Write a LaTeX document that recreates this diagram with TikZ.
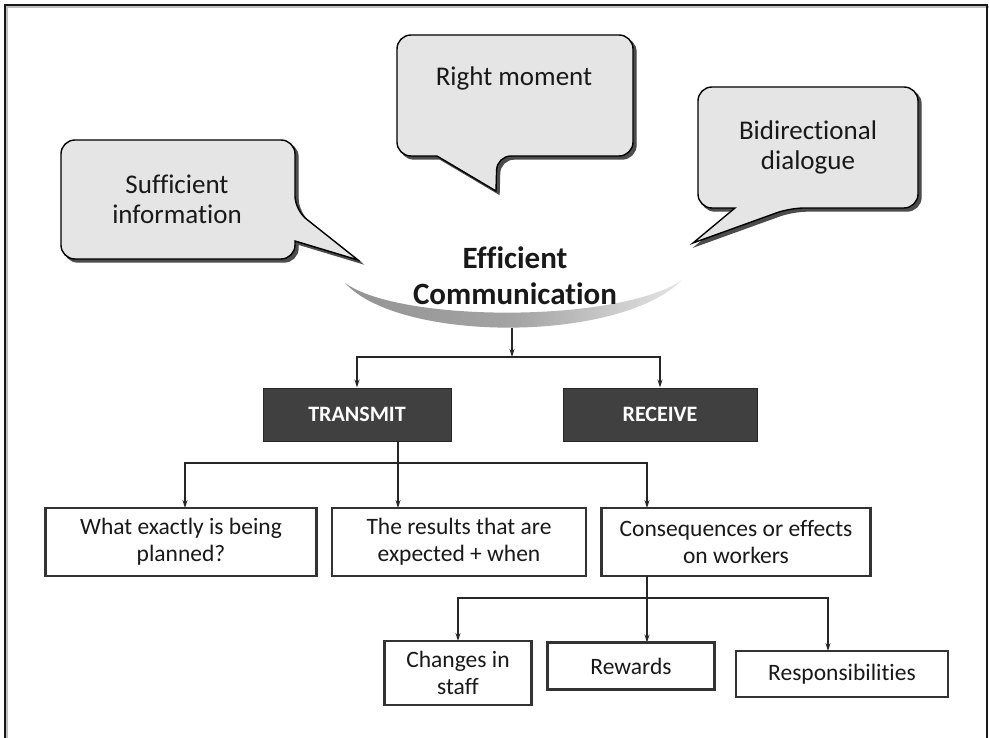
\documentclass[tikz,border=0pt]{standalone}
\usepackage{fontspec}
\setmainfont{Carlito}[RawFeature={-liga;-clig;-calt;-dlig}]
\usetikzlibrary{arrows.meta}
\begin{document}
\begin{tikzpicture}[x=1pt,y=-1pt,
  conn/.style={line width=1.1pt,draw=black!85},
  arr/.style={conn,-{Stealth[length=8pt,width=5pt]}},
  callout/.style={fill=black!10,draw=black,line width=1.4pt,rounded corners=14pt},
  calloutshadow/.style={fill=black!70,draw=black!70,line width=1.4pt,rounded corners=14pt},
  calltext/.style={font=\fontsize{27}{30}\selectfont,align=center,text=black!90},
  darkbox/.style={fill=black!75,draw=black!85,line width=1pt,text=white,font=\fontsize{22}{26}\selectfont\bfseries},
  whitebox/.style={fill=white,draw=black!80,line width=2.6pt,align=center,font=\fontsize{23.5}{27}\selectfont,text=black!90,inner sep=0pt},
  frameline/.style={line width=2pt,draw=black!90}
]
\useasboundingbox (0,0) rectangle (989,738);
% frame
\draw[line width=2pt,black!25] (7,740) -- (7,7) -- (989,7);
\draw[frameline] (5,740) -- (5,5) -- (987,5) -- (987,740);

% callout 1 : Sufficient information
\begin{scope}[shift={(3,3)}]
\path[calloutshadow] (61,140) -- (295,140) -- (295,210) [sharp corners]-- (358,260) -- (295,241) [rounded corners=14pt]-- (295,259) -- (61,259) -- cycle;
\end{scope}
\path[callout] (61,140) -- (295,140) -- (295,210) [sharp corners]-- (358,260) -- (295,241) [rounded corners=14pt]-- (295,259) -- (61,259) -- cycle;
\node[calltext] (c1) at (177,199) {Sufficient\\information};

% callout 2 : Right moment
\begin{scope}[shift={(3,3)}]
\path[calloutshadow] (397,35) -- (633,35) -- (633,156) -- (497,156) [sharp corners]-- (496,191) -- (437,156) [rounded corners=14pt]-- (397,156) -- cycle;
\end{scope}
\path[callout] (397,35) -- (633,35) -- (633,156) -- (497,156) [sharp corners]-- (496,191) -- (437,156) [rounded corners=14pt]-- (397,156) -- cycle;
\node[calltext] (c2) at (514,78) {Right moment};

% callout 3 : Bidirectional dialogue
\begin{scope}[shift={(3,3)}]
\path[calloutshadow] (698,87) -- (918,87) -- (918,208) -- (790,208) [sharp corners]-- (693,243) -- (735,208) [rounded corners=14pt]-- (698,208) -- cycle;
\end{scope}
\path[callout] (698,87) -- (918,87) -- (918,208) -- (790,208) [sharp corners]-- (693,243) -- (735,208) [rounded corners=14pt]-- (698,208) -- cycle;
\node[calltext] (c3) at (808,147) {Bidirectional\\dialogue};

% crescent
\shade[left color=black!42,right color=black!10,middle color=black!36]
  (345,283) .. controls (400,343) and (620,343) .. (682,280)
  .. controls (620,323) and (400,323) .. cycle;
\node[font=\fontsize{31}{36}\selectfont\bfseries,align=center,text=black!90] (title) at (515,276) {Efficient\\Communication};

% top-level boxes
\node[darkbox,minimum width=188pt,minimum height=53pt] (transmit) at (357,414.5) {TRANSMIT};
\node[darkbox,minimum width=194pt,minimum height=53pt] (receive) at (660,414.5) {RECEIVE};

\coordinate (arcbot) at (512,328);
\coordinate (j1) at (512,357);
\draw[arr] (arcbot) -- (j1);
\draw[arr] (j1) -| (transmit.north);
\draw[arr] (j1) -| (receive.north);

% row 1
\node[whitebox,minimum width=271pt,minimum height=68pt] (b1) at (181,542) {What exactly is being\\planned?};
\node[whitebox,minimum width=254pt,minimum height=68pt] (b2) at (459,542) {The results that are\\expected + when};
\node[whitebox,minimum width=269pt,minimum height=68pt] (b3) at (736,542) {Consequences or effects\\on workers};

\coordinate (t0) at (398,441);
\coordinate (j2) at (398,463);
\coordinate (a1) at (185,508);
\coordinate (a2) at (398,508);
\coordinate (a3) at (647,508);
\draw[conn] (t0) -- (j2);
\draw[arr] (j2) -| (a1);
\draw[arr] (j2) -- (a2);
\draw[arr] (j2) -| (a3);

% row 2
\node[whitebox,minimum width=147pt,minimum height=64pt] (d1) at (458,673) {Changes in\\staff};
\node[whitebox,minimum width=167pt,minimum height=47pt] (d2) at (631,666) {Rewards};
\node[whitebox,minimum width=212pt,minimum height=46pt] (d3) at (842,674) {Responsibilities};

\coordinate (s0) at (647,576);
\coordinate (j3) at (647,598);
\coordinate (e1) at (458,641);
\coordinate (e2) at (647,642.5);
\coordinate (e3) at (828,651);
\draw[conn] (s0) -- (j3);
\draw[arr] (j3) -| (e1);
\draw[arr] (j3) -- (e2);
\draw[arr] (j3) -| (e3);
\end{tikzpicture}
\end{document}
